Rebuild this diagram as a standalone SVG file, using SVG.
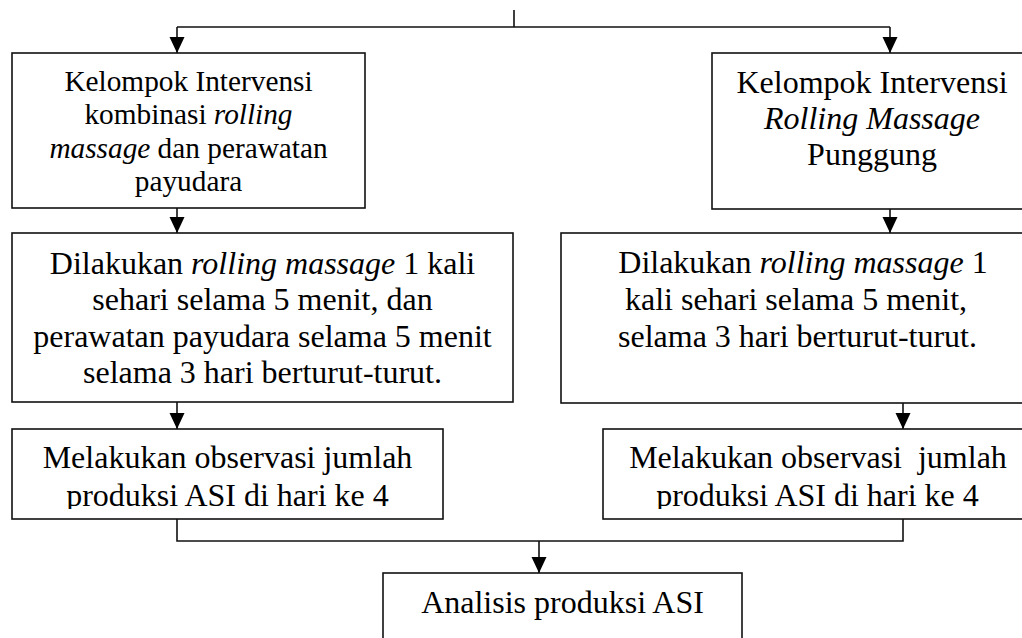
<svg xmlns="http://www.w3.org/2000/svg" width="1022" height="638" viewBox="0 0 1022 638">
<style>
.box{fill:#fff;stroke:#111;stroke-width:1.6}
.ln{fill:none;stroke:#111;stroke-width:1.6}
text{font-family:"Liberation Serif","Times New Roman",serif;fill:#000;text-anchor:middle}
.t11{font-size:29.3px}
.t12{font-size:32px}
.it{font-style:italic}
</style>
<defs>
<marker id="ah" markerWidth="16" markerHeight="15" refX="16" refY="7.5" orient="auto" markerUnits="userSpaceOnUse" viewBox="0 0 16 15" overflow="visible">
<path d="M0,0 L16,7.5 L0,15 Z" fill="#000"/>
</marker>
<clipPath id="clipL3"><rect x="12" y="429" width="432" height="80"/></clipPath>
<clipPath id="clipR3"><rect x="603" y="429" width="430" height="80"/></clipPath>
</defs>
<rect width="1022" height="638" fill="#fff"/>
<g id="connectors">
<path class="ln" d="M514,10 V27 M177,27 H890"/>
<path class="ln" d="M177,27 V53" marker-end="url(#ah)"/>
<path class="ln" d="M890,27 V53" marker-end="url(#ah)"/>
<path class="ln" d="M177,208 V233" marker-end="url(#ah)"/>
<path class="ln" d="M890,209 V233" marker-end="url(#ah)"/>
<path class="ln" d="M177,402 V429" marker-end="url(#ah)"/>
<path class="ln" d="M903,403 V429" marker-end="url(#ah)"/>
<path class="ln" d="M177,519 V541 H903 V519"/>
<path class="ln" d="M539,541 V573" marker-end="url(#ah)"/>
</g>
<g id="left1">
<rect class="box" x="12" y="53" width="353" height="155"/>
<text class="t11" x="188.5" y="91">Kelompok Intervensi</text>
<text class="t11" x="188.5" y="124">kombinasi <tspan class="it">rolling</tspan></text>
<text class="t11" x="188.5" y="158"><tspan class="it">massage</tspan> dan perawatan</text>
<text class="t11" x="188.5" y="191">payudara</text>
</g>
<g id="right1">
<rect class="box" x="712" y="53" width="320" height="156"/>
<text class="t12" x="872" y="93">Kelompok Intervensi</text>
<text class="t12 it" x="872" y="129">Rolling Massage</text>
<text class="t12" x="872" y="165">Punggung</text>
</g>
<g id="left2">
<rect class="box" x="12" y="233" width="501" height="169"/>
<text class="t12" x="262.5" y="274">Dilakukan <tspan class="it">rolling massage</tspan> 1 kali</text>
<text class="t12" x="262.5" y="310">sehari selama 5 menit, dan</text>
<text class="t12" x="262.5" y="347">perawatan payudara selama 5 menit</text>
<text class="t12" x="262.5" y="383">selama 3 hari berturut-turut.</text>
</g>
<g id="right2">
<rect class="box" x="561" y="233" width="480" height="170"/>
<text class="t12" x="803" y="273">Dilakukan <tspan class="it">rolling massage</tspan> 1</text>
<text class="t12" x="796" y="310">kali sehari selama 5 menit,</text>
<text class="t12" x="797.5" y="347">selama 3 hari berturut-turut.</text>
</g>
<g id="left3">
<rect class="box" x="12" y="429" width="431" height="90"/>
<g clip-path="url(#clipL3)">
<text class="t12" x="227.5" y="468">Melakukan observasi jumlah</text>
<text class="t12" x="227.5" y="506">produksi ASI di hari ke 4</text>
</g>
</g>
<g id="right3">
<rect class="box" x="603" y="429" width="430" height="90"/>
<g clip-path="url(#clipR3)">
<text class="t12" x="818" y="468" xml:space="preserve">Melakukan observasi  jumlah</text>
<text class="t12" x="817.5" y="506">produksi ASI di hari ke 4</text>
</g>
</g>
<g id="bottom">
<rect class="box" x="383" y="573" width="359" height="80"/>
<text class="t12" x="562.5" y="613">Analisis produksi ASI</text>
</g>
</svg>
